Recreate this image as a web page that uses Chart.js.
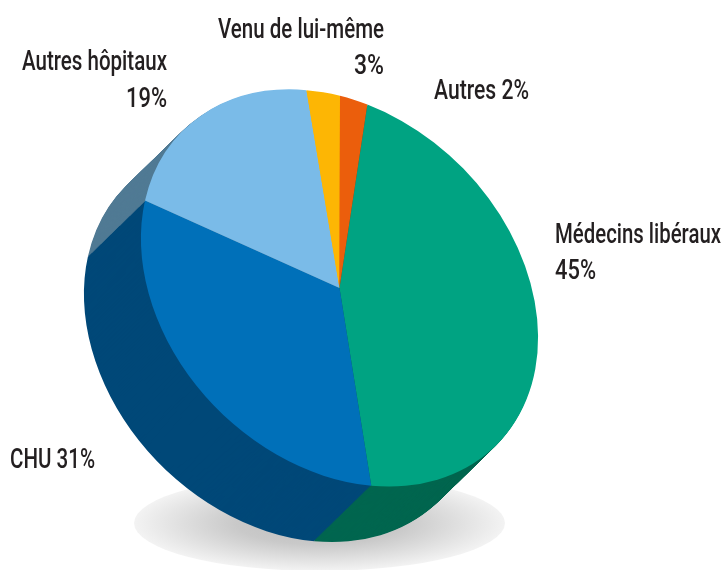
<!DOCTYPE html>
<html lang="fr">
<head>
<meta charset="utf-8">
<style>html,body{margin:0;padding:0;background:#fff}canvas{display:block}</style>
<script src="https://cdn.jsdelivr.net/npm/chart.js@4"></script>
</head>
<body>
<canvas id="c" width="725" height="570"></canvas>
<script>
const categories = ["Médecins libéraux", "CHU", "Autres hôpitaux", "Venu de lui-même", "Autres"];
const values = [45.2, 30.8, 19.1, 2.7, 2.2];
const topColors = ["#00A382", "#0070B9", "#7ABBE8", "#FDB604", "#EB5E0C"];
const sideColors = ["#00664F", "#004878", "#507A94", "#FDB604", "#EB5E0C"];

const labelFont = '500 27.5px Roboto, sans-serif';
const labelColor = "#231F20";
// text, anchor x, baseline y, align, fitted width
const labelLines = [
  ["Venu de lui-même", 384, 38, "right", 166],
  ["3%", 384, 74, "right", 30],
  ["Autres hôpitaux", 167, 70, "right", 145],
  ["19%", 167, 107, "right", 41],
  ["Autres 2%", 434, 99, "left", 95],
  ["Médecins libéraux", 555, 243, "left", 166],
  ["45%", 555, 279, "left", 41],
  ["CHU 31%", 10, 468, "left", 85]
];

// disc geometry on the page
const discCx = 339.5, discCy = 288, discMajor = 222, discMinor = 172;
const depthX = -57, depthY = 55.5;
const startRotation = -29.7;

function applyDisc(ctx, arc) {
  const R = arc.outerRadius, c = Math.SQRT1_2;
  const sa = discMajor / R, sb = discMinor / R;
  ctx.translate(discCx, discCy);
  ctx.transform(c * sa, c * sa, -c * sb, c * sb, 0, 0);
  ctx.translate(-arc.x, -arc.y);
}

const shadowPlugin = {
  id: "floorShadow",
  beforeDraw(chart) {
    const ctx = chart.ctx;
    ctx.save();
    ctx.translate(319.5, 523);
    ctx.scale(1, 48 / 185.5);
    const g = ctx.createRadialGradient(0, 0, 0, 0, 0, 185.5);
    g.addColorStop(0, "#bdbdbd");
    g.addColorStop(0.45, "#c9c9c9");
    g.addColorStop(1, "#f3f3f3");
    ctx.fillStyle = g;
    ctx.beginPath();
    ctx.arc(0, 0, 185.5, 0, Math.PI * 2);
    ctx.fill();
    ctx.restore();
  }
};

const discPlugin = {
  id: "disc3d",
  beforeDatasetsDraw(chart) {
    const ctx = chart.ctx, arcs = chart.getDatasetMeta(0).data;
    const steps = 57;
    for (let k = steps; k >= 1; k--) {
      ctx.save();
      ctx.translate(depthX * k / steps, depthY * k / steps);
      applyDisc(ctx, arcs[0]);
      arcs.forEach((arc, i) => {
        const keep = arc.options;
        arc.options = Object.assign({}, keep, { backgroundColor: sideColors[i], borderWidth: 0 });
        arc.draw(ctx);
        arc.options = keep;
      });
      ctx.restore();
    }
    ctx.save();
    applyDisc(ctx, arcs[0]);
  },
  afterDatasetsDraw(chart) {
    chart.ctx.restore();
  },
  afterDraw(chart) {
    const ctx = chart.ctx;
    ctx.save();
    ctx.font = labelFont;
    ctx.fillStyle = labelColor;
    ctx.textBaseline = "alphabetic";
    labelLines.forEach(([t, x, y, a, w]) => {
      ctx.textAlign = a;
      ctx.fillText(t, x, y, w);
    });
    ctx.restore();
  }
};

new Chart(document.getElementById("c"), {
  type: "pie",
  data: {
    labels: categories,
    datasets: [{
      data: values,
      backgroundColor: topColors,
      borderWidth: 0,
      clip: false
    }]
  },
  options: {
    responsive: false,
    animation: false,
    rotation: startRotation,
    layout: { padding: 0 },
    plugins: { legend: { display: false }, tooltip: { enabled: false }, title: { display: false } }
  },
  plugins: [shadowPlugin, discPlugin]
});
</script>
</body>
</html>
